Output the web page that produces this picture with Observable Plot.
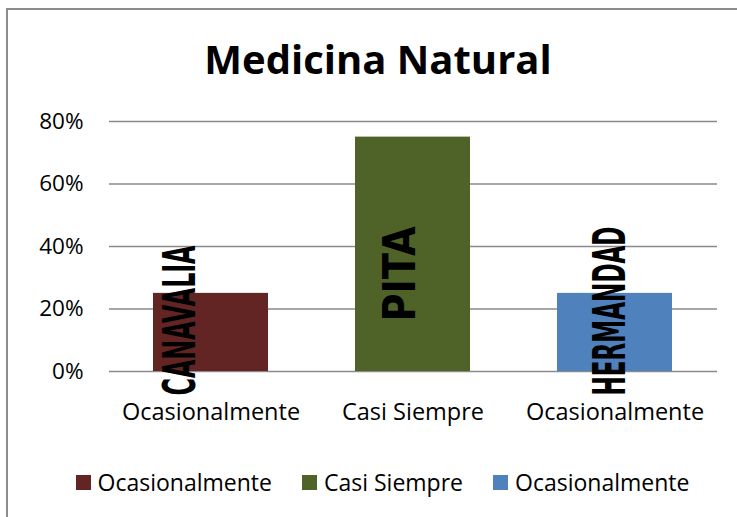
<!DOCTYPE html>
<html>
<head>
<meta charset="utf-8">
<script src="https://cdn.jsdelivr.net/npm/d3@7"></script>
<script src="https://cdn.jsdelivr.net/npm/@observablehq/plot@0.6"></script>
<style>
  html, body { margin: 0; padding: 0; background: #fff; overflow: hidden; }
  #wrap { position: relative; width: 737px; height: 517px; overflow: hidden; font-family: "Open Sans", sans-serif; }
  #frame { position: absolute; left: 6px; top: 8px; width: 800px; height: 600px; border-left: 2px solid #8c8c8c; border-top: 2px solid #8c8c8c; box-sizing: border-box; }
  #title { position: absolute; left: 0; width: 756px; top: 39px; text-align: center; font-weight: 700; font-size: 40px; color: #000; line-height: 1; }
  #chart { position: absolute; left: 0; top: 100px; }
  #chart svg { display: block; }
  #legend { position: absolute; left: 0; width: 765px; top: 466px; display: flex; justify-content: center; gap: 30px; font-size: 23px; color: #000; }
  .item { display: flex; align-items: center; gap: 7px; }
  .sw { width: 15px; height: 15px; display: inline-block; }
</style>
</head>
<body>
<div id="wrap">
  <div id="frame"></div>
  <div id="title">Medicina Natural</div>
  <div id="chart"></div>
  <div id="legend"></div>
</div>
<script>
// ---- data ----
const categories = ["Ocasionalmente", "Casi Siempre", "Ocasionalmente"];
const values = [0.25, 0.75, 0.25];
const barLabels = ["CANAVALIA", "PITA", "HERMANDAD"];
const colors = ["#632523", "#4F6228", "#4F81BD"];
const yTicks = [0, 0.2, 0.4, 0.6, 0.8];

const keys = categories.map((c, i) => i);
const rows = keys.map(i => ({key: i, cat: categories[i], value: values[i], label: barLabels[i], color: colors[i]}));

// label placement (style, in pixels)
const labelDx = [-30, -12, -4];
const labelDy = [24, -50, 24];
const labelLen = [150, 95, 169];

const labelMarks = rows.map((r, i) => Plot.text([r], {
  x: "key", y: () => 0, text: "label",
  rotate: -90, textAnchor: "start", lineAnchor: "middle",
  dx: labelDx[i], dy: labelDy[i],
  fontSize: 44, fontWeight: "bold", fontFamily: "DejaVu Sans", fill: "#000"
}));

const plot = Plot.plot({
  width: 737,
  height: 331,
  marginTop: 21,
  marginBottom: 60,
  marginLeft: 109,
  marginRight: 20,
  style: {fontFamily: "Open Sans", fontSize: "22.5px", color: "#000", background: "transparent", overflow: "visible"},
  x: {domain: keys, paddingInner: 0.43, paddingOuter: 0.215, label: null, tickSize: 0, tickPadding: 32, tickFormat: i => categories[i]},
  y: {domain: [0, 0.8], ticks: yTicks, label: null, tickSize: 0, tickPadding: 26, tickFormat: d3.format(".0%")},
  marks: [
    Plot.ruleY(yTicks, {stroke: "#8a8a8a", strokeWidth: 1.5}),
    Plot.barY(rows, {x: "key", y: "value", fill: "color"}),
    ...labelMarks
  ]
});
document.getElementById("chart").appendChild(plot);

// compress the rotated labels to their lengths
d3.select(plot).selectAll("text").each(function() {
  const t = this.textContent;
  const i = barLabels.indexOf(t);
  if (i >= 0) {
    d3.select(this).attr("textLength", labelLen[i]).attr("lengthAdjust", "spacingAndGlyphs");
  }
});

d3.select(plot).selectAll("g[aria-label='x-axis tick label'] text").style("font-size", "23.5px");

// legend
const legend = d3.select("#legend");
rows.forEach(r => {
  const it = legend.append("div").attr("class", "item");
  it.append("span").attr("class", "sw").style("background", r.color);
  it.append("span").text(r.cat);
});
</script>
</body>
</html>
